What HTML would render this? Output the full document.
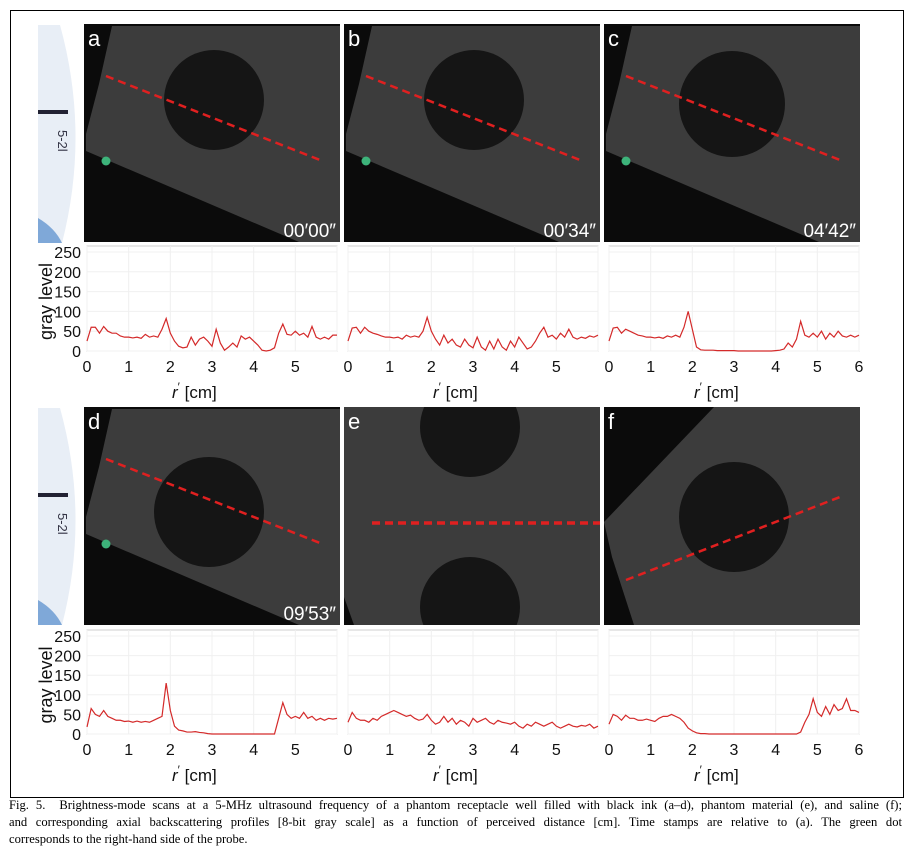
<!DOCTYPE html>
<html><head><meta charset="utf-8"><style>
body{margin:0;background:#fff;width:913px;height:861px;overflow:hidden}
svg{display:block}
.cap{position:absolute;left:9px;top:797px;width:893px;font-family:"Liberation Serif",serif;font-size:12.6px;line-height:17px;color:#000}
.cap div{white-space:nowrap}
.cap .j{text-align:justify;text-align-last:justify}
</style></head><body>
<svg id="fig" width="913" height="861" xmlns="http://www.w3.org/2000/svg" font-family="Liberation Sans, sans-serif">
<defs id="defs"></defs>
<rect x="10.5" y="10.5" width="893" height="787" fill="none" stroke="#000" stroke-width="1"/>
<g id="images"></g>
<g id="plots"></g>
</svg>
<div class="cap"><div class="j">Fig. 5.&nbsp; Brightness-mode scans at a 5-MHz ultrasound frequency of a phantom receptacle well filled with black ink (a–d), phantom material (e), and saline (f);</div><div class="j">and corresponding axial backscattering profiles [8-bit gray scale] as a function of perceived distance [cm]. Time stamps are relative to (a). The green dot</div><div>corresponds to the right-hand side of the probe.</div></div>
<script>
const categories=[];for(let i=0;i<=60;i++)categories.push(i/10);
const seriesA=[25,60,60,45,62,50,45,45,38,35,35,33,35,32,42,35,38,35,55,82,45,25,12,8,10,35,15,30,35,25,12,55,20,2,10,20,10,38,30,35,25,15,2,0,2,8,45,68,42,40,50,40,45,35,62,35,30,35,30,40,40];
const seriesB=[25,58,60,45,60,50,45,42,38,35,35,33,35,30,40,35,38,35,50,85,50,30,15,40,20,30,15,10,30,15,8,35,10,2,25,5,30,10,2,25,10,35,20,5,10,25,45,60,35,40,30,45,35,55,35,30,35,32,38,35,40];
const seriesC=[25,58,60,45,55,50,45,40,38,35,35,33,35,32,38,35,40,35,60,100,55,10,3,2,2,2,1,1,1,1,1,0,0,0,0,0,0,0,0,0,1,2,5,20,10,30,75,40,35,45,35,50,30,45,35,50,38,35,40,35,40];
const seriesD=[18,65,50,45,60,45,40,35,35,32,33,30,33,30,32,30,35,40,45,130,60,20,10,8,5,5,6,4,3,1,0,0,0,0,0,0,0,0,0,0,0,0,0,0,0,0,40,80,50,40,45,40,55,40,45,35,40,35,40,38,40];
const seriesE=[30,55,40,35,35,30,40,35,45,50,55,60,55,50,45,48,40,35,38,50,35,25,30,45,30,40,25,35,30,20,40,30,35,40,30,25,35,30,28,25,30,20,15,25,20,30,25,20,25,30,20,15,20,25,20,18,22,20,25,15,20];
const seriesF=[25,50,45,35,48,40,40,35,35,38,35,32,40,45,45,50,45,40,30,15,8,3,1,1,0,0,0,0,0,0,0,0,0,0,0,0,0,0,0,0,0,0,0,0,0,0,5,30,50,90,55,45,70,50,75,60,65,90,60,60,55];
const yTicks=[0,50,100,150,200,250];
const xTicks=[0,1,2,3,4,5,6];
const NS="http://www.w3.org/2000/svg";
function mk(t,a,p){const e=document.createElementNS(NS,t);for(const k in a)e.setAttribute(k,a[k]);p.appendChild(e);return e;}
const imgs=document.getElementById('images'),plots=document.getElementById('plots'),defs=document.getElementById('defs');

[[25,243],[408,625]].forEach((r,i)=>{
 const g=mk('g',{},imgs);
 
 
 mk('path',{d:`M38 ${r[0]} L60 ${r[0]} Q90 ${(r[0]+r[1])/2} 62 ${r[1]} L38 ${r[1]} Z`,fill:'#e8eef6'},g);
 mk('path',{d:`M38 ${r[1]-25} Q55 ${r[1]-15} 62 ${r[1]} L38 ${r[1]} Z`,fill:'#7fa8d8'},g);
 mk('rect',{x:38,y:r[0]+85,width:30,height:4,fill:'#223'},g);
 const t=mk('text',{x:0,y:0,'font-size':13,fill:'#334',transform:`translate(58 ${r[0]+105}) rotate(90)`},g);t.textContent='5-2l';
});

function panel(x,y,label,opts){
 const cp=mk('clipPath',{id:'clip-'+label},defs);
 mk('rect',{x:x,y:y,width:256,height:218},cp);
 const g=mk('g',{'clip-path':'url(#clip-'+label+')'},imgs);
 
 
 mk('rect',{x:x,y:y,width:256,height:218,fill:'#0b0b0b'},g);
 mk('polygon',{points:opts.fan.map(p=>(x+p[0])+','+(y+p[1])).join(' '),fill:'#3c3c3c'},g);
 opts.circles.forEach(c=>mk('circle',{cx:x+c[0],cy:y+c[1],r:c[2],fill:'#151515'},g));
 mk('line',{x1:x+opts.line[0],y1:y+opts.line[1],x2:x+opts.line[2],y2:y+opts.line[3],stroke:'#e02020','stroke-width':opts.lw||2.5,'stroke-dasharray':'8 5'},g);
 if(opts.dot)mk('circle',{cx:x+22,cy:y+137,r:4.5,fill:'#3db37a'},g);
 const t=mk('text',{x:x+4,y:y+22,'font-size':22,fill:'#fff'},g);t.textContent=label;
 if(opts.time){const s=mk('text',{x:x+252,y:y+213,'font-size':19,fill:'#fff','text-anchor':'end'},g);s.textContent=opts.time;}
}
const fanL=[[28,2],[256,2],[256,218],[215,218],[2,127],[2,110],[15,60]];
panel(84,24,'a',{fan:fanL,circles:[[130,76,50]],line:[22,52,236,136],dot:1,time:'00′00″'});
panel(344,24,'b',{fan:fanL,circles:[[130,76,50]],line:[22,52,236,136],dot:1,time:'00′34″'});
panel(604,24,'c',{fan:fanL,circles:[[128,80,53]],line:[22,52,236,136],dot:1,time:'04′42″'});
panel(84,407,'d',{fan:fanL,circles:[[125,105,55]],line:[22,52,236,136],dot:1,time:'09′53″'});
panel(344,407,'e',{fan:[[0,0],[256,0],[256,218],[10,218],[0,190]],circles:[[126,20,50],[126,200,50]],line:[28,116,256,116],lw:3.5});
panel(604,407,'f',{fan:[[0,115],[110,0],[256,0],[256,218],[30,218],[8,150]],circles:[[130,110,55]],line:[22,173,236,90]});

function plot(x0,y0,y250,data,name,six,ylab){
 const g=mk('g',{},plots);
 
 
 const w=250,xs=v=>x0+v/6*w,ys=v=>y0-v/250*(y0-y250);
 const top=y250-6;
 mk('rect',{x:x0,y:top,width:w,height:y0-top,fill:'#fff',stroke:'#cfcfcf','stroke-width':1},g);
 xTicks.forEach(t=>{mk('line',{x1:xs(t),x2:xs(t),y1:top,y2:y0,stroke:'#f0f0f0'},g);
  if(t<6||six){const l=mk('text',{x:xs(t),y:y0+21,'font-size':16,'text-anchor':'middle',fill:'#111'},g);l.textContent=t;
   
   }});
 yTicks.forEach(t=>{mk('line',{x1:x0,x2:x0+w,y1:ys(t),y2:ys(t),stroke:'#f0f0f0'},g);
  if(ylab){const l=mk('text',{x:x0-6,y:ys(t)+6,'font-size':16,'text-anchor':'end',fill:'#111'},g);l.textContent=t;
   
   }});
 if(ylab){const l=mk('text',{x:0,y:0,'font-size':18,'text-anchor':'middle',fill:'#111',transform:`translate(52 ${(y0+y250)/2}) rotate(-90)`},g);l.textContent='gray level';
  
  }
 const xl=mk('text',{x:x0+w/2-40,y:y0+47,'font-size':17,fill:'#111'},g);
 xl.innerHTML='<tspan font-style="italic">r</tspan><tspan dy="-7" font-size="12">′</tspan><tspan dy="7"> [cm]</tspan>';
 
 
 const p=mk('polyline',{points:data.map((v,i)=>xs(categories[i])+','+ys(v)).join(' '),fill:'none',stroke:'#d42a2a','stroke-width':1.2},g);
 
 
}
plot(87,351,252,seriesA,'a',false,true);
plot(348,351,252,seriesB,'b',false,false);
plot(609,351,252,seriesC,'c',true,false);
plot(87,734,636,seriesD,'d',false,true);
plot(348,734,636,seriesE,'e',false,false);
plot(609,734,636,seriesF,'f',true,false);
</script>
</body></html>
